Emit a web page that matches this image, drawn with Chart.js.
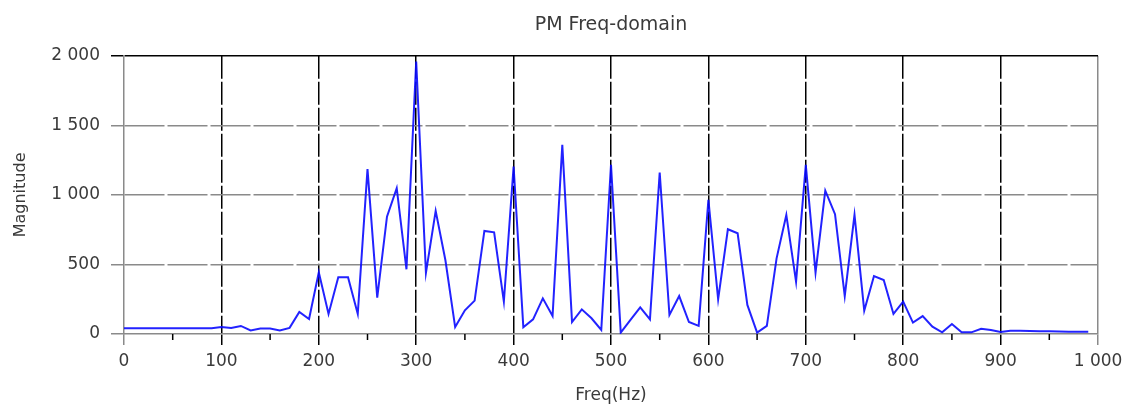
<!DOCTYPE html>
<html>
<head>
<meta charset="utf-8">
<script src="https://cdn.jsdelivr.net/npm/chart.js@4/dist/chart.umd.min.js"></script>
<style>
  html, body { margin: 0; padding: 0; background: #fff; }
  #wrap { width: 1137px; height: 417px; }
</style>
</head>
<body>
<div id="wrap"><canvas id="myChart" width="1137" height="417"></canvas></div>
<script>
// frequency bins (Hz), one every 10 Hz
const freqs = [
  0, 10, 20, 30, 40, 50, 60, 70, 80, 90,
  100, 110, 120, 130, 140, 150, 160, 170, 180, 190,
  200, 210, 220, 230, 240, 250, 260, 270, 280, 290,
  300, 310, 320, 330, 340, 350, 360, 370, 380, 390,
  400, 410, 420, 430, 440, 450, 460, 470, 480, 490,
  500, 510, 520, 530, 540, 550, 560, 570, 580, 590,
  600, 610, 620, 630, 640, 650, 660, 670, 680, 690,
  700, 710, 720, 730, 740, 750, 760, 770, 780, 790,
  800, 810, 820, 830, 840, 850, 860, 870, 880, 890,
  900, 910, 920, 930, 940, 950, 960, 970, 980, 990
];

const magnitude = [
  42, 42, 42, 42, 42, 42, 42, 42, 42, 42,
  50, 43, 58, 26, 40, 40, 26, 44, 158, 108,
  443, 144, 408, 408, 144, 1185, 261, 844, 1048, 465,
  1959, 440, 885, 530, 50, 170, 240, 741, 731, 233,
  1204, 48, 105, 256, 129, 1360, 86, 177, 113, 29,
  1216, 10, 101, 192, 105, 1161, 137, 273, 86, 58,
  964, 249, 753, 724, 209, 10, 58, 544, 856, 376,
  1216, 441, 1031, 861, 273, 856, 168, 417, 388, 144,
  233, 82, 129, 53, 12, 72, 12, 12, 38, 28,
  15, 24, 24, 22, 20, 19, 18, 17, 16, 16
];

const xTicks = [0, 100, 200, 300, 400, 500, 600, 700, 800, 900, 1000];
const xMinorTicks = [50, 150, 250, 350, 450, 550, 650, 750, 850, 950];
const yTicks = [0, 500, 1000, 1500, 2000];

const fmt = v => String(v).replace(/\B(?=(\d{3})+(?!\d))/g, ' ');
const txt = '#3a3a3a';
const gray = '#8a8a8a';

// short minor ticks under the x axis
const minorTicks = {
  id: 'minorTicks',
  afterDraw(chart) {
    const x = chart.scales.x;
    const ctx = chart.ctx;
    const y0 = chart.chartArea.bottom;
    ctx.save();
    ctx.strokeStyle = '#000';
    ctx.lineWidth = 1.5;
    xMinorTicks.forEach(v => {
      const px = x.getPixelForValue(v);
      ctx.beginPath();
      ctx.moveTo(px, y0);
      ctx.lineTo(px, y0 + 6);
      ctx.stroke();
    });
    ctx.restore();
  }
};

new Chart(document.getElementById('myChart').getContext('2d'), {
  type: 'line',
  data: {
    datasets: [{
      data: freqs.map((f, i) => ({ x: f, y: magnitude[i] })),
      borderColor: 'rgba(10,10,255,0.9)',
      borderWidth: 2,
      pointRadius: 0,
      tension: 0,
      fill: false
    }]
  },
  plugins: [minorTicks],
  options: {
    responsive: false,
    animation: false,
    layout: { padding: { left: 0, right: 39, top: 0, bottom: 0 } },
    plugins: {
      legend: { display: false },
      tooltip: { enabled: false },
      title: {
        display: true,
        fullSize: false,
        text: 'PM Freq-domain',
        color: txt,
        font: { family: 'DejaVu Sans', size: 19, weight: 'normal' },
        padding: { top: 14, bottom: 19 }
      }
    },
    scales: {
      x: {
        type: 'linear',
        min: 0,
        max: 1000,
        afterBuildTicks: s => { s.ticks = xTicks.map(v => ({ value: v })); },
        afterFit: s => { s.height = 83; },
        ticks: {
          autoSkip: false,
          maxRotation: 0,
          padding: 6,
          color: txt,
          font: { family: 'DejaVu Sans', size: 17 },
          callback: v => fmt(v)
        },
        grid: {
          lineWidth: 1.5,
          tickLength: 11,
          tickWidth: 1.5,
          color: c => (c.tick && c.tick.value === 0) ? 'rgba(0,0,0,0)' : (c.tick && c.tick.value === 1000 ? gray : '#000'),
          tickColor: c => (c.tick && (c.tick.value === 0 || c.tick.value === 1000)) ? gray : '#000'
        },
        border: {
          display: true,
          color: gray,
          width: 1.5,
          dash: c => (c.tick && c.tick.value !== 1000) ? [23, 3] : []
        },
        title: {
          display: true,
          text: 'Freq(Hz)',
          color: txt,
          font: { family: 'DejaVu Sans', size: 17 },
          padding: { top: 16, bottom: 11 }
        }
      },
      y: {
        type: 'linear',
        min: 0,
        max: 2000,
        afterBuildTicks: s => { s.ticks = yTicks.map(v => ({ value: v })); },
        afterFit: s => { s.width = 124; },
        ticks: {
          padding: 11,
          color: txt,
          font: { family: 'DejaVu Sans', size: 17 },
          callback: v => fmt(v)
        },
        grid: {
          lineWidth: 1.5,
          tickLength: 13,
          tickWidth: 1.5,
          color: c => (c.tick && c.tick.value === 0) ? 'rgba(0,0,0,0)' : (c.tick && c.tick.value === 2000 ? '#000' : gray),
          tickColor: c => (c.tick && c.tick.value === 2000) ? '#000' : gray
        },
        border: {
          display: true,
          color: gray,
          width: 1.5,
          dash: c => (c.tick && c.tick.value !== 2000) ? [40, 3] : []
        },
        title: {
          display: true,
          text: 'Magnitude',
          color: txt,
          font: { family: 'DejaVu Sans', size: 16 },
          padding: { top: 11, bottom: 10 }
        }
      }
    }
  }
});
</script>
</body>
</html>
